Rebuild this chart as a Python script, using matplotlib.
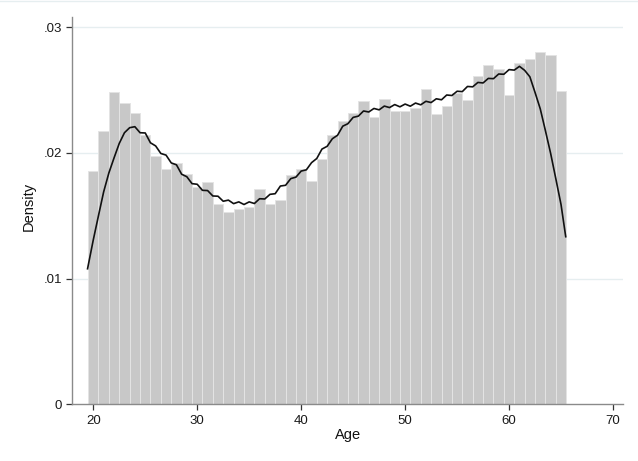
import matplotlib
matplotlib.use("Agg")
import matplotlib.pyplot as plt
from matplotlib.lines import Line2D

# ── Data ──────────────────────────────────────────────────────────────────────

# histogram: one-year bins centred on each age
ages = list(range(20, 66))
density = [
    0.01856, 0.02174, 0.02482, 0.02395, 0.02320, 0.02142, 0.01975, 0.01870,
    0.01922, 0.01830, 0.01731, 0.01765, 0.01593, 0.01530, 0.01553, 0.01573,
    0.01710, 0.01593, 0.01626, 0.01824, 0.01870, 0.01773, 0.01950, 0.02141,
    0.02256, 0.02313, 0.02415, 0.02288, 0.02426, 0.02335, 0.02335, 0.02355,
    0.02508, 0.02310, 0.02371, 0.02474, 0.02423, 0.02609, 0.02702, 0.02665,
    0.02458, 0.02715, 0.02745, 0.02803, 0.02781, 0.02495,
]

# kernel density estimate, sampled every half year
kde_age = [19.45] + [20.0 + 0.5 * i for i in range(91)] + [65.45]
kde_density = [
    0.01078,
    0.01307, 0.01500, 0.01690, 0.01840, 0.01960, 0.02075, 0.02160, 0.02200,
    0.02208, 0.02160, 0.02158, 0.02080, 0.02055, 0.01995, 0.01982, 0.01920,
    0.01905, 0.01830, 0.01810, 0.01755, 0.01750, 0.01702, 0.01700, 0.01657,
    0.01655, 0.01615, 0.01624, 0.01596, 0.01610, 0.01589, 0.01610, 0.01597,
    0.01635, 0.01633, 0.01670, 0.01675, 0.01736, 0.01742, 0.01795, 0.01807,
    0.01855, 0.01865, 0.01922, 0.01955, 0.02030, 0.02052, 0.02112, 0.02140,
    0.02212, 0.02232, 0.02282, 0.02292, 0.02333, 0.02325, 0.02353, 0.02342,
    0.02372, 0.02360, 0.02384, 0.02366, 0.02388, 0.02371, 0.02396, 0.02382,
    0.02410, 0.02400, 0.02430, 0.02422, 0.02460, 0.02456, 0.02490, 0.02487,
    0.02528, 0.02525, 0.02560, 0.02556, 0.02592, 0.02590, 0.02627, 0.02625,
    0.02662, 0.02658, 0.02688, 0.02656, 0.02605, 0.02480, 0.02350, 0.02175,
    0.01995, 0.01793, 0.01588,
    0.01333,
]

x_ticks = [20, 30, 40, 50, 60, 70]
y_ticks = [0, 0.01, 0.02, 0.03]
y_tick_labels = ["0", ".01", ".02", ".03"]

# ── Chart ─────────────────────────────────────────────────────────────────────

plt.rcParams["font.family"] = ["Liberation Sans", "DejaVu Sans"]

fig = plt.figure(figsize=(6.38, 4.61), dpi=100)
ax = fig.add_axes([0.1136, 0.123, 0.8624, 0.840])

ax.bar(ages, density, width=1.0, color="#c8c8c8", edgecolor="#e4e4e4",
       linewidth=0.7, zorder=2)
ax.plot(kde_age, kde_density, color="#111111", linewidth=1.2, zorder=3,
        solid_joinstyle="round")

ax.set_xlim(18.0, 70.93)
ax.set_ylim(0, 0.0308)

for y in y_ticks[1:]:
    ax.axhline(y, color="#e6eef0", linewidth=1.0, zorder=1)

ax.set_xticks(x_ticks)
ax.set_yticks(y_ticks)
ax.set_yticklabels(y_tick_labels)
ax.tick_params(axis="both", direction="out", length=4.5, width=0.9,
               color="#333333", labelsize=9.5, labelcolor="#1a1a1a", pad=3)

for side in ("top", "right"):
    ax.spines[side].set_visible(False)
for side in ("left", "bottom"):
    ax.spines[side].set_color("#8a8a8a")
    ax.spines[side].set_linewidth(1.0)

ax.set_xlabel("Age", fontsize=10.5, color="#111111")
ax.set_ylabel("Density", fontsize=10.5, color="#111111")
ax.xaxis.set_label_coords(0.5, -0.062)
ax.yaxis.label.set_verticalalignment("center")
ax.yaxis.set_label_coords(-0.080, 0.512)

# thin frame line along the top of the graph region
fig.add_artist(Line2D([0, 1], [0.998, 0.998], transform=fig.transFigure,
                      color="#e6eef0", linewidth=1.0))

fig.savefig("out.png", dpi=100, facecolor="white")
plt.close(fig)
